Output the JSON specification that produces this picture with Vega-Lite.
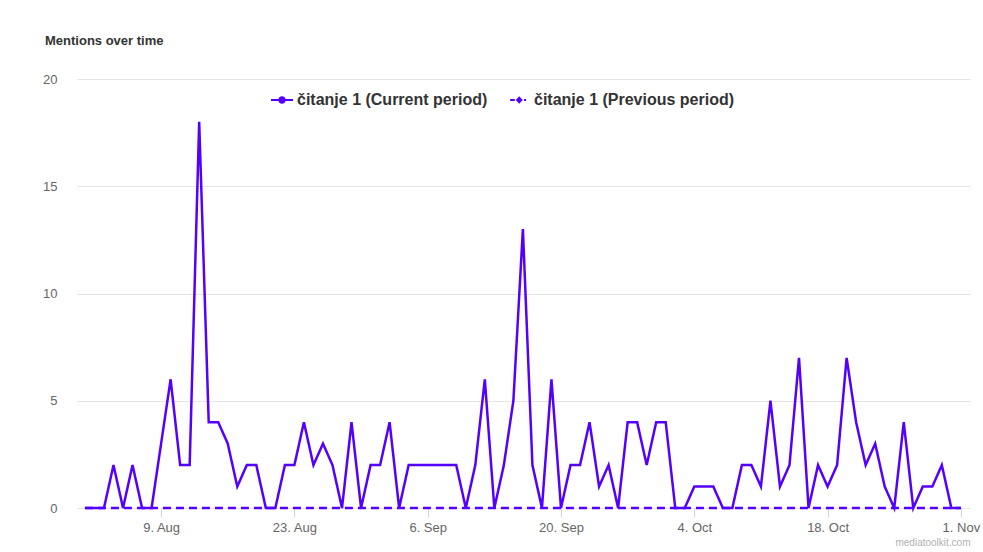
{
  "$schema": "https://vega.github.io/schema/vega-lite/v6.json",
  "width": 893,
  "height": 429,
  "autosize": {"type": "none"},
  "padding": {"left": 77, "top": 79, "right": 13, "bottom": 44},
  "background": "#ffffff",
  "config": {
    "view": {"stroke": null},
    "font": "Liberation Sans"
  },
  "title": {
    "text": "Mentions over time",
    "anchor": "start",
    "frame": "group",
    "dx": -32,
    "offset": 25,
    "fontSize": 13,
    "fontWeight": "bold",
    "color": "#333333",
    "font": "Liberation Sans"
  },
  "data": {
    "values": [
      {"d": "2021-08-01", "cur": 0, "prev": 0},
      {"d": "2021-08-02", "cur": 0, "prev": 0},
      {"d": "2021-08-03", "cur": 0, "prev": 0},
      {"d": "2021-08-04", "cur": 2, "prev": 0},
      {"d": "2021-08-05", "cur": 0, "prev": 0},
      {"d": "2021-08-06", "cur": 2, "prev": 0},
      {"d": "2021-08-07", "cur": 0, "prev": 0},
      {"d": "2021-08-08", "cur": 0, "prev": 0},
      {"d": "2021-08-09", "cur": 3, "prev": 0},
      {"d": "2021-08-10", "cur": 6, "prev": 0},
      {"d": "2021-08-11", "cur": 2, "prev": 0},
      {"d": "2021-08-12", "cur": 2, "prev": 0},
      {"d": "2021-08-13", "cur": 18, "prev": 0},
      {"d": "2021-08-14", "cur": 4, "prev": 0},
      {"d": "2021-08-15", "cur": 4, "prev": 0},
      {"d": "2021-08-16", "cur": 3, "prev": 0},
      {"d": "2021-08-17", "cur": 1, "prev": 0},
      {"d": "2021-08-18", "cur": 2, "prev": 0},
      {"d": "2021-08-19", "cur": 2, "prev": 0},
      {"d": "2021-08-20", "cur": 0, "prev": 0},
      {"d": "2021-08-21", "cur": 0, "prev": 0},
      {"d": "2021-08-22", "cur": 2, "prev": 0},
      {"d": "2021-08-23", "cur": 2, "prev": 0},
      {"d": "2021-08-24", "cur": 4, "prev": 0},
      {"d": "2021-08-25", "cur": 2, "prev": 0},
      {"d": "2021-08-26", "cur": 3, "prev": 0},
      {"d": "2021-08-27", "cur": 2, "prev": 0},
      {"d": "2021-08-28", "cur": 0, "prev": 0},
      {"d": "2021-08-29", "cur": 4, "prev": 0},
      {"d": "2021-08-30", "cur": 0, "prev": 0},
      {"d": "2021-08-31", "cur": 2, "prev": 0},
      {"d": "2021-09-01", "cur": 2, "prev": 0},
      {"d": "2021-09-02", "cur": 4, "prev": 0},
      {"d": "2021-09-03", "cur": 0, "prev": 0},
      {"d": "2021-09-04", "cur": 2, "prev": 0},
      {"d": "2021-09-05", "cur": 2, "prev": 0},
      {"d": "2021-09-06", "cur": 2, "prev": 0},
      {"d": "2021-09-07", "cur": 2, "prev": 0},
      {"d": "2021-09-08", "cur": 2, "prev": 0},
      {"d": "2021-09-09", "cur": 2, "prev": 0},
      {"d": "2021-09-10", "cur": 0, "prev": 0},
      {"d": "2021-09-11", "cur": 2, "prev": 0},
      {"d": "2021-09-12", "cur": 6, "prev": 0},
      {"d": "2021-09-13", "cur": 0, "prev": 0},
      {"d": "2021-09-14", "cur": 2, "prev": 0},
      {"d": "2021-09-15", "cur": 5, "prev": 0},
      {"d": "2021-09-16", "cur": 13, "prev": 0},
      {"d": "2021-09-17", "cur": 2, "prev": 0},
      {"d": "2021-09-18", "cur": 0, "prev": 0},
      {"d": "2021-09-19", "cur": 6, "prev": 0},
      {"d": "2021-09-20", "cur": 0, "prev": 0},
      {"d": "2021-09-21", "cur": 2, "prev": 0},
      {"d": "2021-09-22", "cur": 2, "prev": 0},
      {"d": "2021-09-23", "cur": 4, "prev": 0},
      {"d": "2021-09-24", "cur": 1, "prev": 0},
      {"d": "2021-09-25", "cur": 2, "prev": 0},
      {"d": "2021-09-26", "cur": 0, "prev": 0},
      {"d": "2021-09-27", "cur": 4, "prev": 0},
      {"d": "2021-09-28", "cur": 4, "prev": 0},
      {"d": "2021-09-29", "cur": 2, "prev": 0},
      {"d": "2021-09-30", "cur": 4, "prev": 0},
      {"d": "2021-10-01", "cur": 4, "prev": 0},
      {"d": "2021-10-02", "cur": 0, "prev": 0},
      {"d": "2021-10-03", "cur": 0, "prev": 0},
      {"d": "2021-10-04", "cur": 1, "prev": 0},
      {"d": "2021-10-05", "cur": 1, "prev": 0},
      {"d": "2021-10-06", "cur": 1, "prev": 0},
      {"d": "2021-10-07", "cur": 0, "prev": 0},
      {"d": "2021-10-08", "cur": 0, "prev": 0},
      {"d": "2021-10-09", "cur": 2, "prev": 0},
      {"d": "2021-10-10", "cur": 2, "prev": 0},
      {"d": "2021-10-11", "cur": 1, "prev": 0},
      {"d": "2021-10-12", "cur": 5, "prev": 0},
      {"d": "2021-10-13", "cur": 1, "prev": 0},
      {"d": "2021-10-14", "cur": 2, "prev": 0},
      {"d": "2021-10-15", "cur": 7, "prev": 0},
      {"d": "2021-10-16", "cur": 0, "prev": 0},
      {"d": "2021-10-17", "cur": 2, "prev": 0},
      {"d": "2021-10-18", "cur": 1, "prev": 0},
      {"d": "2021-10-19", "cur": 2, "prev": 0},
      {"d": "2021-10-20", "cur": 7, "prev": 0},
      {"d": "2021-10-21", "cur": 4, "prev": 0},
      {"d": "2021-10-22", "cur": 2, "prev": 0},
      {"d": "2021-10-23", "cur": 3, "prev": 0},
      {"d": "2021-10-24", "cur": 1, "prev": 0},
      {"d": "2021-10-25", "cur": 0, "prev": 0},
      {"d": "2021-10-26", "cur": 4, "prev": 0},
      {"d": "2021-10-27", "cur": 0, "prev": 0},
      {"d": "2021-10-28", "cur": 1, "prev": 0},
      {"d": "2021-10-29", "cur": 1, "prev": 0},
      {"d": "2021-10-30", "cur": 2, "prev": 0},
      {"d": "2021-10-31", "cur": 0, "prev": 0},
      {"d": "2021-11-01", "cur": 0, "prev": 0}
    ]
  },
  "transform": [
    {"fold": ["cur", "prev"], "as": ["series", "value"]}
  ],
  "mark": {"type": "line", "strokeWidth": 2.5, "color": "#5400ff", "interpolate": "linear"},
  "encoding": {
    "x": {
      "field": "d",
      "type": "temporal",
      "scale": {
        "type": "utc",
        "domain": [
          {"year": 2021, "month": 7, "date": 31, "hours": 4, "utc": true},
          {"year": 2021, "month": 11, "date": 1, "hours": 23, "utc": true}
        ]
      },
      "axis": {
        "title": "mediatoolkit.com",
        "titleAnchor": "end",
        "titleAlign": "right",
        "titleFontSize": 10,
        "titleFontWeight": "normal",
        "titleColor": "#b0b0b0",
        "titlePadding": 3,
        "values": [
          {"year": 2021, "month": 8, "date": 9, "utc": true},
          {"year": 2021, "month": 8, "date": 23, "utc": true},
          {"year": 2021, "month": 9, "date": 6, "utc": true},
          {"year": 2021, "month": 9, "date": 20, "utc": true},
          {"year": 2021, "month": 10, "date": 4, "utc": true},
          {"year": 2021, "month": 10, "date": 18, "utc": true},
          {"year": 2021, "month": 11, "date": 1, "utc": true}
        ],
        "format": "%-d. %b",
        "grid": false,
        "domain": false,
        "ticks": true,
        "tickColor": "#ccd6eb",
        "tickSize": 9,
        "labelFontSize": 13,
        "labelColor": "#666666",
        "labelPadding": 4,
        "labelFlush": false
      }
    },
    "y": {
      "field": "value",
      "type": "quantitative",
      "scale": {"domain": [0, 20], "nice": false},
      "axis": {
        "title": null,
        "values": [0, 5, 10, 15, 20],
        "grid": true,
        "gridColor": "#e6e6e6",
        "domain": false,
        "ticks": false,
        "labelFontSize": 13,
        "labelColor": "#666666",
        "labelPadding": 20
      }
    },
    "strokeDash": {
      "field": "series",
      "type": "nominal",
      "scale": {"domain": ["cur", "prev"], "range": [[1, 0], [8, 5]]},
      "legend": {
        "title": null,
        "orient": "none",
        "legendX": 194,
        "legendY": 10,
        "direction": "horizontal",
        "symbolSize": 484,
        "symbolType": {"expr": "datum.value == 'cur' ? 'M-1,-0.09H1V0.09H-1Z M-0.34,0A0.34,0.34 0 1,1 0.34,0A0.34,0.34 0 1,1 -0.34,0Z' : 'M-0.8,-0.09H-0.38V0.09H-0.8Z M0.02,-0.34L0.34,0L0.02,0.34L-0.3,0Z M0.46,-0.09H0.64V0.09H0.46Z'"},
        "symbolFillColor": "#5400ff",
        "symbolStrokeWidth": 0,
        "labelFontSize": 16,
        "labelFontWeight": "bold",
        "labelColor": "#333333",
        "labelFont": "Liberation Sans",
        "labelOffset": 4,
        "labelLimit": 400,
        "columnPadding": 20,
        "labelExpr": "datum.value == 'cur' ? 'čitanje 1 (Current period)' : 'čitanje 1 (Previous period)'",
        "encode": {
          "symbols": {
            "fill": {"value": "#5400ff"},
            "fillOpacity": {"value": 1},
            "strokeWidth": {"value": 0}
          }
        }
      }
    }
  }
}
